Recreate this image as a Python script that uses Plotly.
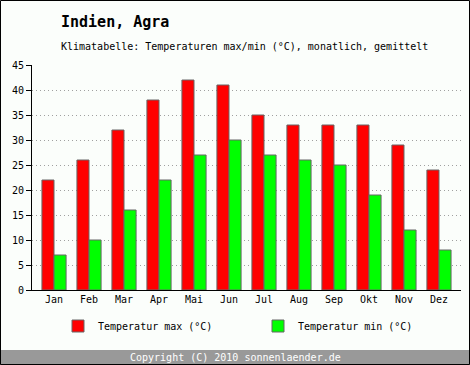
import plotly.graph_objects as go

months = ["Jan", "Feb", "Mar", "Apr", "Mai", "Jun", "Jul", "Aug", "Sep", "Okt", "Nov", "Dez"]
temp_max = [22, 26, 32, 38, 42, 41, 35, 33, 33, 33, 29, 24]
temp_min = [7, 10, 16, 22, 27, 30, 27, 26, 25, 19, 12, 8]
y_ticks = [0, 5, 10, 15, 20, 25, 30, 35, 40, 45]

FONT = "DejaVu Sans Mono"
W, H = 470, 365
L, R, T, B = 32, 9, 65, 75
PW, PH = W - L - R, H - T - B

def px_x(x):
    return (x - L) / PW

def px_y(y):
    return (H - B - y) / PH

fig = go.Figure()
fig.add_trace(go.Bar(x=months, y=temp_max, name="Temperatur max (°C)", legend="legend",
                     marker=dict(color="#ff0000", line=dict(color="#666666", width=1))))
fig.add_trace(go.Bar(x=months, y=temp_min, name="Temperatur min (°C)", legend="legend2",
                     marker=dict(color="#00ff00", line=dict(color="#666666", width=1))))

bg = "#fbfefb"
leg_common = dict(orientation="h", xanchor="left", yanchor="middle", y=px_y(326),
                  font=dict(size=10, family=FONT), bgcolor="rgba(0,0,0,0)", itemclick=False,
                  itemdoubleclick=False)
fig.update_layout(
    width=W, height=H,
    margin=dict(l=L, r=R, t=T, b=B, pad=0),
    paper_bgcolor=bg, plot_bgcolor=bg,
    barmode="group", bargap=0.31, bargroupgap=0,
    font=dict(family=FONT, size=10, color="#000000"),
    showlegend=True,
    legend=dict(x=px_x(58), **leg_common),
    legend2=dict(x=px_x(258), **leg_common),
    xaxis=dict(range=[-0.629, 11.629], showline=True, linecolor="#000000", linewidth=1,
               ticks="", showgrid=False, tickfont=dict(size=10, family=FONT), fixedrange=True),
    yaxis=dict(range=[0, 45], tickvals=y_ticks, showline=True, linecolor="#000000", linewidth=1,
               ticks="outside", ticklen=5, tickcolor="#000000",
               showgrid=True, gridcolor="#a0a0a0", griddash="1px,3px", gridwidth=1,
               zeroline=False, tickfont=dict(size=10, family=FONT), fixedrange=True),
    annotations=[
        dict(text="<b>Indien, Agra</b>", xref="paper", yref="paper", x=px_x(59), y=px_y(22),
             xanchor="left", yanchor="middle", showarrow=False, font=dict(size=15, family=FONT)),
        dict(text="Klimatabelle: Temperaturen max/min (°C), monatlich, gemittelt", xref="paper", yref="paper",
             x=px_x(59), y=px_y(47), xanchor="left", yanchor="middle", showarrow=False,
             font=dict(size=10, family=FONT)),
        dict(text="Copyright (C) 2010 sonnenlaender.de", xref="paper", yref="paper",
             x=px_x(235), y=px_y(357), xanchor="center", yanchor="middle", showarrow=False,
             font=dict(size=10, family=FONT, color="#ffffff")),
    ],
    shapes=[
        dict(type="rect", xref="paper", yref="paper", x0=px_x(0), x1=px_x(470), y0=px_y(350), y1=px_y(365),
             fillcolor="#999999", line=dict(width=0), layer="below"),
        dict(type="rect", xref="paper", yref="paper", x0=px_x(0.5), x1=px_x(469.5), y0=px_y(364.5), y1=px_y(0.5),
             fillcolor="rgba(0,0,0,0)", line=dict(color="#000000", width=1)),
    ],
)

fig.write_html("out.html", config={"displayModeBar": False},
               post_script="document.body.style.margin='0';document.body.style.padding='0';")
